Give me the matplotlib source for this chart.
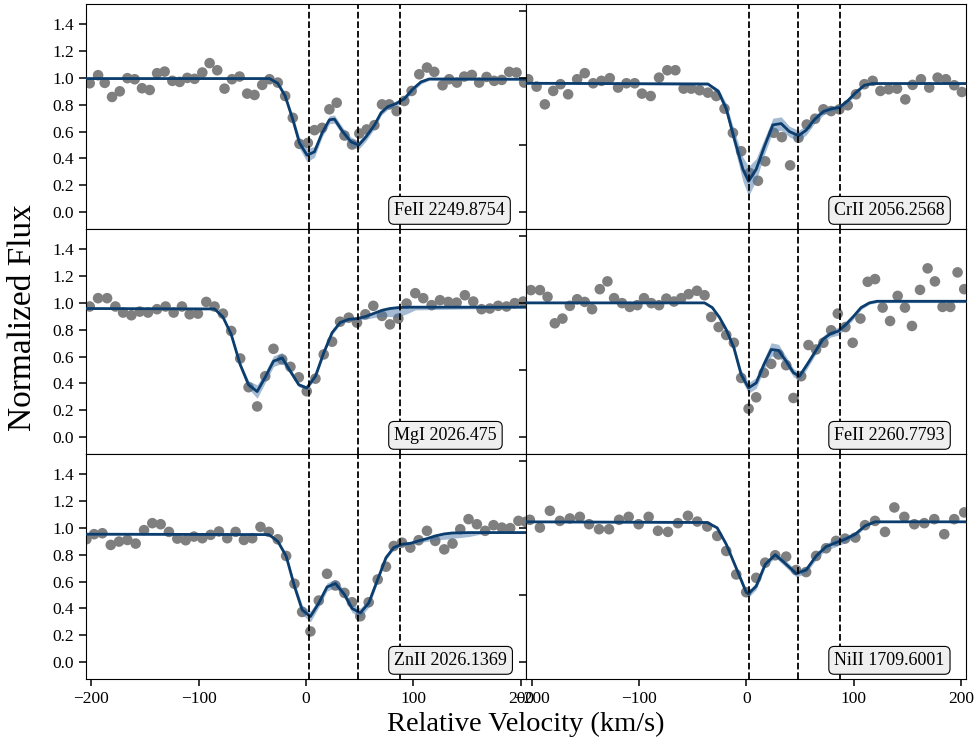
import matplotlib
matplotlib.use('Agg')
import matplotlib.pyplot as plt

plt.rcParams['font.family'] = 'serif'
plt.rcParams['font.serif'] = ['Liberation Serif', 'DejaVu Serif']
plt.rcParams['mathtext.fontset'] = 'stix'

# component velocities (dashed lines)
comp_v = [2.5, 48.5, 87.0]

# ---- FeII 2249.8754 ----
fe49_v = [-201.6, -193.8, -187.6, -180.8, -173.6, -166.5, -159.7, -152.9, -145.7, -138.8,
          -131.8, -124.6, -117.8, -110.7, -103.9, -96.7, -89.9, -82.8, -76.0, -69.1,
          -62.0, -54.9, -48.1, -40.9, -34.1, -26.4, -19.5, -12.4, -6.2, 1.6,
          7.8, 14.9, 21.7, 28.5, 35.7, 42.8, 49.6, 56.4, 63.6, 70.7,
          77.5, 84.3, 91.5, 98.3, 105.4, 112.6, 119.4, 127.1, 133.3, 140.5,
          147.3, 154.4, 161.2, 168.1, 175.2, 182.3, 189.2, 196.0, 203.1]
fe49_f = [0.96, 1.02, 0.963, 0.858, 0.90, 0.998, 0.99, 0.923, 0.91, 1.035,
          1.047, 0.978, 0.97, 1.0, 0.993, 1.04, 1.11, 1.057, 0.92, 0.99,
          1.01, 0.883, 0.873, 0.948, 0.99, 0.965, 0.865, 0.703, 0.509, 0.516,
          0.611, 0.628, 0.766, 0.815, 0.571, 0.504, 0.586, 0.616, 0.648, 0.803,
          0.803, 0.753, 0.828, 0.903, 1.027, 1.077, 1.045, 0.945, 0.99, 0.965,
          1.01, 1.022, 0.965, 1.007, 0.978, 0.985, 1.045, 1.04, 0.965]
fe49_mv = [-205, -34.0, -26.4, -19.5, -12.4, -6.2, 0.9, 7.8, 14.9, 21.7, 26.4, 34.1, 41.9,
           49.0, 55.8, 63.6, 69.8, 76.0, 83.7, 91.5, 99.2, 107.0, 114.7, 205]
fe49_mf = [0.995, 0.995, 0.96, 0.865, 0.69, 0.516, 0.424, 0.45, 0.59, 0.688, 0.693, 0.60, 0.524,
           0.50, 0.561, 0.648, 0.74, 0.785, 0.808, 0.845, 0.915, 0.97, 0.992, 0.99]
fe49_lo = [0.005, 0.005, 0.01, 0.02, 0.03, 0.04, 0.05, 0.04, 0.03, 0.03, 0.03, 0.03, 0.035,
           0.03, 0.03, 0.025, 0.02, 0.02, 0.02, 0.02, 0.02, 0.015, 0.01, 0.005]
fe49_hi = fe49_lo

# ---- CrII 2056.2568 ----
cr_v = [-203.1, -195.3, -187.6, -179.8, -173.0, -165.9, -157.5, -150.4, -142.6, -134.9,
        -127.1, -119.4, -111.6, -103.9, -97.1, -89.0, -81.2, -73.5, -66.0, -58.3,
        -51.2, -43.4, -35.7, -27.9, -20.2, -12.4, -4.7, 3.1, 10.9, 17.7,
        25.7, 33.2, 40.9, 48.7, 56.4, 64.2, 71.9, 79.1, 86.8, 94.6,
        102.3, 110.1, 117.8, 125.0, 132.7, 140.5, 148.2, 155.0, 162.8, 170.5,
        178.3, 186.0, 193.8, 200.9]
cr_f = [0.990, 0.935, 0.803, 0.903, 0.953, 0.878, 0.990, 1.035, 0.960, 0.978,
        0.998, 0.928, 0.960, 0.960, 0.883, 0.865, 1.002, 1.057, 1.057, 0.920,
        0.920, 0.908, 0.890, 0.865, 0.771, 0.591, 0.454, 0.292, 0.234, 0.379,
        0.591, 0.559, 0.349, 0.554, 0.653, 0.696, 0.766, 0.753, 0.766, 0.796,
        0.878, 0.953, 0.978, 0.903, 0.915, 0.920, 0.840, 0.948, 0.990, 0.928,
        1.002, 0.990, 0.945, 0.895]
cr_mv = [-205, -35.7, -26.0, -18.6, -10.9, -3.1, 2.2, 9.3, 17.0, 24.8, 32.6, 40.3,
         48.7, 55.8, 63.6, 72.0, 79.7, 86.8, 94.6, 102.0, 110.0, 117.5, 205]
cr_mf = [0.96, 0.955, 0.90, 0.77, 0.54, 0.32, 0.23, 0.32, 0.49, 0.65, 0.66, 0.60,
         0.57, 0.61, 0.69, 0.75, 0.77, 0.78, 0.83, 0.89, 0.945, 0.958, 0.958]
cr_lo = [0.005, 0.01, 0.02, 0.04, 0.06, 0.09, 0.11, 0.08, 0.06, 0.05, 0.05, 0.04,
         0.04, 0.035, 0.03, 0.025, 0.02, 0.02, 0.02, 0.015, 0.01, 0.005, 0.005]
cr_hi = cr_lo

# ---- MgI 2026.475 ----
mg_v = [-201.6, -193.8, -185.4, -177.7, -170.5, -162.8, -155.0, -147.3, -138.9, -130.9,
        -123.4, -115.7, -108.5, -100.8, -93.0, -85.3, -77.5, -69.8, -61.4, -53.6,
        -45.6, -38.1, -30.4, -22.3, -14.6, -6.8, 0.6, 8.7, 16.4, 24.2,
        31.6, 39.7, 47.4, 55.2, 62.6, 70.7, 78.1, 85.9, 93.6, 101.7,
        109.1, 116.9, 124.7, 132.4, 140.2, 147.9, 155.7, 163.4, 171.2, 178.9,
        186.7, 194.4, 202.2]
mg_f = [0.973, 1.035, 1.035, 0.973, 0.928, 0.908, 0.935, 0.928, 0.953, 0.973,
        0.928, 0.973, 0.915, 0.920, 1.007, 0.973, 0.920, 0.791, 0.586, 0.372,
        0.229, 0.454, 0.658, 0.579, 0.524, 0.446, 0.342, 0.436, 0.616, 0.711,
        0.860, 0.890, 0.853, 0.915, 0.978, 0.903, 0.840, 0.883, 0.995, 1.072,
        1.035, 0.983, 1.020, 1.007, 1.002, 1.057, 1.010, 0.953, 0.958, 0.978,
        0.973, 0.998, 1.010]
mg_mv = [-205, -85.3, -77.5, -69.8, -61.4, -53.6, -45.6, -38.1, -30.4, -22.3, -14.6, -6.8,
         0.6, 8.7, 16.4, 24.2, 31.6, 39.7, 47.4, 55.2, 62.6, 70.7, 78.1, 85.9, 93.6, 101.7, 205]
mg_mf = [0.958, 0.955, 0.895, 0.766, 0.54, 0.39, 0.34, 0.446, 0.566, 0.59, 0.49, 0.39,
         0.367, 0.454, 0.628, 0.778, 0.853, 0.878, 0.883, 0.898, 0.92, 0.945, 0.958, 0.965,
         0.968, 0.968, 0.968]
mg_lo = [0.005, 0.005, 0.01, 0.015, 0.02, 0.03, 0.05, 0.04, 0.04, 0.04, 0.02, 0.015,
         0.015, 0.02, 0.02, 0.015, 0.015, 0.01, 0.01, 0.02, 0.03, 0.045, 0.06, 0.07,
         0.05, 0.02, 0.005]
mg_hi = [0.005, 0.005, 0.01, 0.015, 0.02, 0.03, 0.05, 0.04, 0.04, 0.04, 0.02, 0.015,
         0.015, 0.02, 0.02, 0.015, 0.015, 0.01, 0.01, 0.01, 0.01, 0.01, 0.005, 0.005,
         0.005, 0.005, 0.005]

# ---- FeII 2260.7793 ----
fe60_v = [-200.6, -192.2, -185.1, -178.3, -171.2, -164.3, -157.5, -150.4, -143.6, -136.4,
          -129.3, -123.1, -115.7, -108.5, -101.4, -95.2, -88.4, -81.2, -74.4, -67.3,
          -60.5, -53.6, -45.9, -38.8, -32.6, -25.7, -18.6, -11.5, -4.7, 2.2,
          9.3, 16.4, 23.3, 30.1, 37.2, 44.0, 51.2, 58.0, 65.1, 71.9,
          79.1, 85.3, 92.4, 99.2, 106.4, 113.2, 120.0, 127.1, 134.0, 141.1,
          147.9, 154.4, 161.9, 169.0, 175.8, 182.9, 190.1, 196.9, 203.1]
fe60_f = [1.095, 1.095, 1.045, 0.848, 0.883, 0.978, 1.027, 1.007, 0.953, 1.102,
          1.160, 1.035, 0.998, 0.970, 0.983, 1.035, 0.998, 0.983, 1.032, 1.010,
          1.035, 1.065, 1.090, 1.057, 0.895, 0.820, 0.761, 0.703, 0.441, 0.212,
          0.297, 0.479, 0.546, 0.616, 0.536, 0.292, 0.454, 0.686, 0.653, 0.703,
          0.796, 0.920, 0.820, 0.703, 0.883, 1.157, 1.177, 0.965, 0.865, 1.052,
          0.965, 0.828, 1.097, 1.257, 1.160, 0.970, 0.970, 1.227, 1.102]
fe60_mv = [-205, -38.8, -31.6, -24.8, -18.6, -11.5, -4.7, 2.2, 9.3, 16.4, 23.3, 30.1, 37.2,
           44.0, 49.6, 56.7, 63.6, 71.3, 78.4, 85.9, 93.0, 100.0, 107.0, 114.7, 121.9, 205]
fe60_mf = [1.0, 1.0, 0.965, 0.89, 0.80, 0.666, 0.466, 0.367, 0.404, 0.54, 0.653, 0.646, 0.566,
           0.48, 0.454, 0.54, 0.628, 0.728, 0.77, 0.79, 0.84, 0.90, 0.965, 1.0, 1.012, 1.012]
fe60_lo = [0.005, 0.005, 0.01, 0.015, 0.02, 0.03, 0.035, 0.04, 0.04, 0.04, 0.05, 0.045, 0.035,
           0.03, 0.03, 0.03, 0.025, 0.025, 0.025, 0.03, 0.025, 0.02, 0.015, 0.01, 0.01, 0.01]
fe60_hi = fe60_lo

# ---- ZnII 2026.1369 ----
zn_v = [-204.7, -197.5, -189.8, -182.0, -174.3, -166.5, -158.8, -151.0, -143.3, -135.5,
        -127.8, -120.0, -112.2, -104.5, -96.7, -89.0, -81.2, -73.5, -65.7, -58.0,
        -50.2, -42.5, -34.7, -26.4, -18.6, -10.9, -3.7, 4.0, 11.8, 19.5,
        27.3, 35.7, 42.8, 50.5, 58.3, 66.7, 74.4, 81.6, 89.3, 97.1,
        104.8, 112.6, 120.3, 128.7, 136.4, 143.6, 151.3, 159.1, 166.8, 174.6,
        182.3, 190.1, 197.8, 204.5]
zn_f = [0.915, 0.953, 0.960, 0.873, 0.898, 0.910, 0.883, 0.983, 1.035, 1.027,
        0.970, 0.920, 0.908, 0.935, 0.923, 0.948, 0.973, 0.923, 0.970, 0.910,
        0.923, 1.007, 0.970, 0.915, 0.791, 0.584, 0.374, 0.229, 0.459, 0.658,
        0.571, 0.516, 0.446, 0.342, 0.446, 0.616, 0.711, 0.865, 0.890, 0.853,
        0.908, 0.978, 0.903, 0.840, 0.883, 0.990, 1.065, 1.027, 0.978, 1.020,
        1.002, 0.998, 1.052, 1.045]
zn_mv = [-205, -34.7, -26.4, -18.6, -10.9, -3.7, 4.0, 11.8, 19.5, 27.3, 35.7, 42.8, 50.5,
         58.3, 66.7, 74.4, 81.6, 89.3, 97.1, 104.8, 112.6, 120.3, 128.7, 136.4, 151.3,
         166.8, 205]
zn_mf = [0.953, 0.95, 0.90, 0.79, 0.566, 0.39, 0.34, 0.44, 0.56, 0.586, 0.504, 0.40, 0.367,
         0.44, 0.616, 0.778, 0.853, 0.878, 0.885, 0.903, 0.92, 0.94, 0.955, 0.962, 0.965,
         0.965, 0.965]
zn_lo = [0.005, 0.005, 0.01, 0.02, 0.03, 0.035, 0.04, 0.03, 0.03, 0.03, 0.03, 0.03, 0.035,
         0.03, 0.02, 0.015, 0.015, 0.01, 0.01, 0.015, 0.02, 0.03, 0.04, 0.04, 0.03,
         0.005, 0.005]
zn_hi = [0.005, 0.005, 0.01, 0.02, 0.03, 0.035, 0.04, 0.03, 0.03, 0.03, 0.03, 0.03, 0.035,
         0.03, 0.02, 0.015, 0.015, 0.01, 0.01, 0.01, 0.005, 0.005, 0.005, 0.005, 0.005,
         0.005, 0.005]

# ---- NiII 1709.6001 ----
ni_v = [-201.6, -192.2, -182.9, -173.6, -164.3, -155.0, -146.4, -137.1, -127.8, -118.4,
        -109.5, -100.2, -90.9, -82.2, -72.9, -63.6, -54.3, -45.6, -36.3, -27.0,
        -18.6, -9.3, 0.0, 9.3, 17.7, 27.0, 37.2, 46.5, 55.8, 65.1,
        74.4, 83.7, 92.1, 101.7, 110.7, 120.0, 129.3, 138.0, 147.3, 156.6,
        165.9, 175.2, 184.5, 193.8, 203.1]
ni_f = [1.060, 1.002, 1.127, 1.052, 1.070, 1.082, 1.027, 0.990, 0.990, 1.060,
        1.082, 1.027, 1.082, 0.978, 0.970, 1.035, 1.090, 1.047, 1.010, 0.940,
        0.828, 0.653, 0.521, 0.628, 0.741, 0.796, 0.786, 0.686, 0.671, 0.791,
        0.848, 0.903, 0.920, 0.928, 1.020, 1.052, 0.970, 1.152, 1.082, 1.027,
        1.035, 1.065, 0.953, 1.065, 1.115]
ni_mv = [-205, -36.3, -27.0, -18.6, -9.3, 0.0, 2.2, 9.3, 17.7, 27.0, 35.7, 46.5, 55.8,
         65.1, 74.4, 83.7, 92.1, 101.7, 110.7, 120.0, 205]
ni_mf = [1.045, 1.04, 1.0, 0.878, 0.70, 0.52, 0.51, 0.566, 0.728, 0.80, 0.74, 0.66, 0.686,
         0.79, 0.86, 0.89, 0.915, 0.953, 1.015, 1.045, 1.045]
ni_lo = [0.005, 0.005, 0.01, 0.015, 0.02, 0.025, 0.025, 0.025, 0.02, 0.02, 0.025, 0.025,
         0.025, 0.025, 0.025, 0.03, 0.025, 0.02, 0.01, 0.005, 0.005]
ni_hi = ni_lo

panels = [
    ('FeII 2249.8754', fe49_v, fe49_f, fe49_mv, fe49_mf, fe49_lo, fe49_hi),
    ('CrII 2056.2568', cr_v, cr_f, cr_mv, cr_mf, cr_lo, cr_hi),
    ('MgI 2026.475', mg_v, mg_f, mg_mv, mg_mf, mg_lo, mg_hi),
    ('FeII 2260.7793', fe60_v, fe60_f, fe60_mv, fe60_mf, fe60_lo, fe60_hi),
    ('ZnII 2026.1369', zn_v, zn_f, zn_mv, zn_mf, zn_lo, zn_hi),
    ('NiII 1709.6001', ni_v, ni_f, ni_mv, ni_mf, ni_lo, ni_hi),
]

fig, axes = plt.subplots(3, 2, figsize=(9.78, 7.44), dpi=100)
fig.subplots_adjust(left=0.088, right=0.988, top=0.9946, bottom=0.0874,
                    hspace=0, wspace=0)

for i, (name, v, f, mv, mf, lo, hi) in enumerate(panels):
    ax = axes[i // 2, i % 2]
    ax.scatter(v, f, s=58, color='#7f7f7f', edgecolors='none', zorder=2)
    lower = [m - e for m, e in zip(mf, lo)]
    upper = [m + e for m, e in zip(mf, hi)]
    ax.fill_between(mv, lower, upper, color='#4a78a8', alpha=0.5, lw=0, zorder=3)
    ax.plot(mv, mf, color='#0b3d6e', lw=2, zorder=4)
    for c in comp_v:
        ax.axvline(c, color='black', ls='--', lw=1.3, zorder=5)
    ax.set_xlim(-205, 205)
    ax.set_ylim(-0.125, 1.55)
    ax.set_xticks([-200, -100, 0, 100, 200])
    if i % 2 == 0:
        ax.set_yticks([0.0, 0.2, 0.4, 0.6, 0.8, 1.0, 1.2, 1.4])
    else:
        ax.set_yticks([0.0, 0.5, 1.0, 1.5])
        ax.tick_params(labelleft=False)
    if i // 2 < 2:
        ax.tick_params(labelbottom=False)
    ax.tick_params(direction='out', length=5, width=1.1, labelsize=12.5)
    ax.text(0.70, 0.045, name, transform=ax.transAxes, ha='left', va='bottom',
            fontsize=13, zorder=6,
            bbox=dict(boxstyle='round,pad=0.3', facecolor='#efefef',
                      edgecolor='black', lw=0.8))

fig.text(0.538, 0.010, 'Relative Velocity (km/s)', ha='center', va='bottom', fontsize=20.5)
fig.text(0.008, 0.573, 'Normalized Flux', ha='left', va='center', rotation=90, fontsize=24)

fig.savefig('out.png', dpi=100)
